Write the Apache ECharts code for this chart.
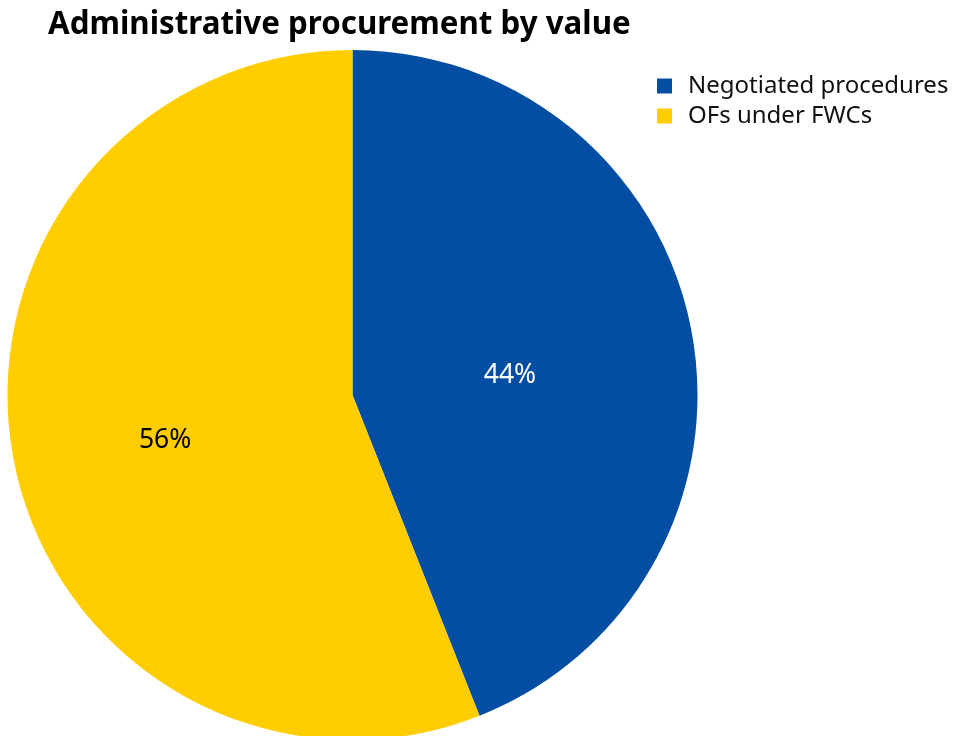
<!DOCTYPE html>
<html>
<head>
<meta charset="utf-8">
<style>
  html, body { margin: 0; padding: 0; background: #ffffff; }
  #chart { width: 954px; height: 736px; }
</style>
<script src="https://cdn.jsdelivr.net/npm/echarts@6/dist/echarts.min.js"></script>
</head>
<body>
<div id="chart"></div>
<script>
// Share of administrative procurement value by procedure type (percent)
const categories = ['Negotiated procedures', 'OFs under FWCs'];
const shares = [44, 56];
const sliceColors = ['#034EA2', '#FFCD00'];
const labelColors = ['#ffffff', '#000000'];

const FONT = '"Noto Sans", "Open Sans", sans-serif';

const chart = echarts.init(document.getElementById('chart'), null, { renderer: 'canvas' });

chart.setOption({
  animation: false,
  backgroundColor: '#ffffff',
  title: {
    text: 'Administrative procurement by value',
    left: 43,
    top: 5,
    textStyle: { fontFamily: FONT, fontSize: 31.3, fontWeight: 'bold', color: '#000000' }
  },
  legend: {
    orient: 'vertical',
    left: 652,
    top: 69,
    icon: 'rect',
    itemWidth: 15,
    itemHeight: 15,
    itemGap: 6,
    selectedMode: false,
    data: categories,
    textStyle: { fontFamily: FONT, fontSize: 24, color: '#111111', padding: [0, 0, 0, 11] }
  },
  series: [{
    type: 'pie',
    center: [352.5, 395],
    radius: 345,
    startAngle: 90,
    clockwise: true,
    silent: true,
    emphasis: { disabled: true },
    label: {
      show: true,
      position: 'inside',
      offset: [-15, 13],
      fontFamily: FONT,
      fontSize: 26.5,
      formatter: p => p.value + '%'
    },
    labelLine: { show: false },
    data: categories.map((name, i) => ({
      name,
      value: shares[i],
      itemStyle: { color: sliceColors[i] },
      label: { color: labelColors[i] }
    }))
  }]
});
</script>
</body>
</html>
